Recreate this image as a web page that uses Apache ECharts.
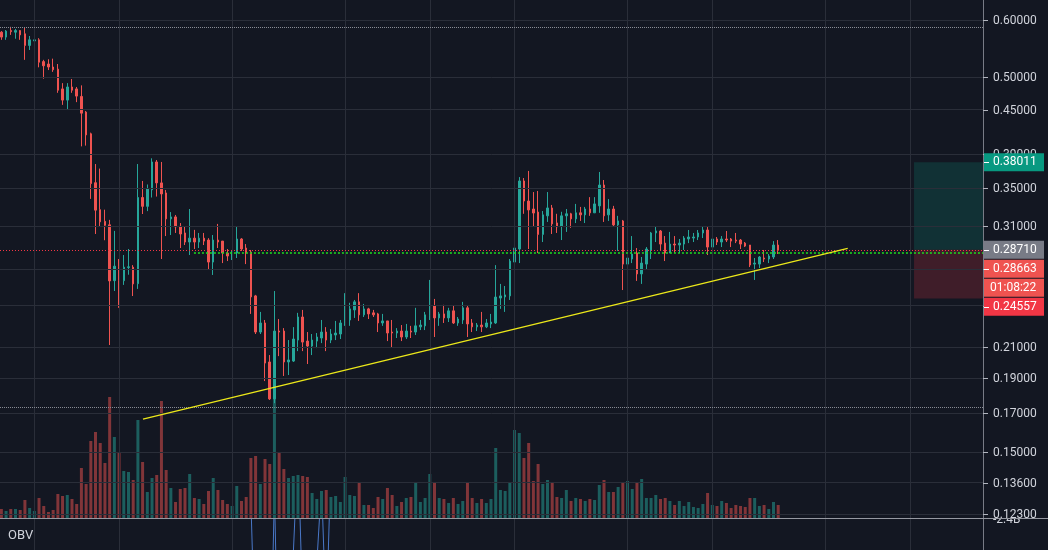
<!DOCTYPE html>
<html><head><meta charset="utf-8">
<script src="https://cdn.jsdelivr.net/npm/echarts@6/dist/echarts.min.js"></script>
<style>html,body{margin:0;padding:0;background:#131722;overflow:hidden}#c{width:1048px;height:550px}</style>
</head><body><div id="c"></div>
<script>
// ---- data ----
const openP = [0.577,0.568,0.580,0.577,0.580,0.574,0.553,0.561,0.563,0.525,
0.521,0.516,0.5125,0.481,0.464,0.484,0.481,0.4695,0.4465,0.4165,
0.356,0.3265,0.3145,0.311,0.260,0.2724,0.260,0.2713,0.2715,0.2575,
0.3395,0.330,0.348,0.3805,0.3558,0.3445,0.317,0.319,0.3095,0.303,
0.2943,0.298,0.2943,0.298,0.2962,0.276,0.2962,0.2952,0.2841,0.2814,
0.2841,0.2972,0.2887,0.285,0.2476,0.2205,0.227,0.2003,0.1779,0.2212,
0.2212,0.2003,0.2009,0.2149,0.2314,0.2142,0.2108,0.2142,0.2163,0.2205,
0.2149,0.2184,0.2191,0.2263,0.2292,0.2367,0.2429,0.233,0.2375,0.2345,
0.2337,0.227,0.2285,0.2205,0.2198,0.2212,0.217,0.2212,0.2205,0.2242,
0.2249,0.2322,0.2398,0.2307,0.2337,0.2307,0.236,0.227,0.2292,0.2383,
0.227,0.2242,0.2255,0.2242,0.2263,0.227,0.2459,0.2468,0.2476,0.276,
0.2878,0.358,0.3357,0.3272,0.324,0.3016,0.3201,0.3283,0.3129,0.3098,
0.3201,0.3222,0.317,0.3232,0.3211,0.3272,0.3232,0.3305,0.3534,0.3211,
0.3272,0.3109,0.3149,0.2742,0.2787,0.2841,0.2657,0.2742,0.2869,0.303,
0.3049,0.2933,0.2841,0.2924,0.2915,0.2924,0.2972,0.2981,0.2991,0.303,
0.3059,0.2896,0.2972,0.2943,0.2972,0.2972,0.2962,0.2962,0.2933,0.2915,
0.2742,0.2742,0.2796,0.2787,0.2805,0.2915];
const highP = [0.579,0.581,0.587,0.583,0.581,0.585,0.570,0.568,0.566,0.528,
0.529,0.530,0.521,0.490,0.490,0.4965,0.484,0.4865,0.448,0.418,
0.378,0.3725,0.3265,0.316,0.305,0.2787,0.2823,0.2878,0.2733,0.378,
0.358,0.354,0.385,0.3829,0.3805,0.3478,0.324,0.321,0.3128,0.3095,
0.3272,0.306,0.303,0.303,0.298,0.301,0.3119,0.2952,0.2878,0.2869,
0.3095,0.298,0.2924,0.2869,0.2484,0.2352,0.2292,0.2048,0.2515,0.2299,
0.2233,0.2149,0.224,0.2345,0.2367,0.2205,0.2191,0.2198,0.2292,0.224,
0.2226,0.2285,0.2292,0.2498,0.2422,0.2444,0.2498,0.2413,0.2383,0.2367,
0.2345,0.2337,0.2285,0.2292,0.2233,0.2255,0.2263,0.2249,0.2383,0.2292,
0.2352,0.2606,0.2452,0.2352,0.2406,0.2383,0.2398,0.2314,0.2429,0.2398,
0.2299,0.227,0.2352,0.2299,0.2337,0.2733,0.2573,0.2556,0.2787,0.319,
0.3625,0.3614,0.3697,0.3455,0.3467,0.3251,0.3455,0.3315,0.3222,0.3243,
0.3272,0.3232,0.3326,0.3294,0.3294,0.3399,0.3399,0.3685,0.3591,0.3378,
0.3305,0.3201,0.3159,0.2841,0.300,0.2887,0.2805,0.2896,0.304,0.3095,
0.3059,0.300,0.304,0.300,0.2972,0.300,0.3059,0.303,0.3059,0.3098,
0.3088,0.300,0.2991,0.300,0.3049,0.2981,0.303,0.2972,0.2943,0.2915,
0.2796,0.2814,0.2869,0.2832,0.2952,0.2962];
const lowP = [0.563,0.563,0.572,0.565,0.563,0.528,0.545,0.553,0.5155,0.497,
0.511,0.508,0.475,0.457,0.4495,0.475,0.461,0.400,0.401,0.338,
0.302,0.3095,0.296,0.2115,0.2515,0.2383,0.2565,0.265,0.2475,0.2532,
0.322,0.325,0.3395,0.3405,0.2787,0.300,0.301,0.303,0.2887,0.2915,
0.2823,0.2878,0.2887,0.2915,0.2691,0.2648,0.2887,0.2751,0.2769,0.2778,
0.2796,0.286,0.2742,0.2337,0.2191,0.2191,0.1884,0.1773,0.1755,0.2041,
0.1915,0.1921,0.2003,0.2074,0.2074,0.199,0.2048,0.2094,0.2128,0.2074,
0.2128,0.2149,0.2156,0.2249,0.2249,0.2307,0.2285,0.2314,0.2299,0.2314,
0.2205,0.2249,0.2142,0.2101,0.2163,0.2142,0.2156,0.2163,0.2184,0.2219,
0.2219,0.2292,0.217,0.2249,0.227,0.2277,0.2263,0.2249,0.2263,0.217,
0.2205,0.2212,0.2205,0.2233,0.2233,0.2263,0.2375,0.2352,0.2444,0.2742,
0.2751,0.3222,0.2878,0.3095,0.2841,0.2943,0.3139,0.302,0.303,0.2962,
0.304,0.308,0.3128,0.3149,0.3128,0.3201,0.3232,0.3232,0.3139,0.3149,
0.309,0.286,0.2523,0.2614,0.2751,0.2598,0.2573,0.2691,0.2787,0.2943,
0.286,0.2769,0.2841,0.2841,0.2841,0.2869,0.2933,0.2943,0.2962,0.2981,
0.2823,0.2887,0.2915,0.2896,0.2943,0.2896,0.2933,0.2878,0.2896,0.2716,
0.2606,0.2707,0.276,0.2751,0.2787,0.2832];
const closeP = [0.568,0.579,0.578,0.580,0.572,0.553,0.563,0.563,0.524,0.518,
0.516,0.5115,0.479,0.464,0.484,0.479,0.470,0.445,0.415,0.355,
0.326,0.314,0.3105,0.2598,0.2724,0.260,0.2715,0.2718,0.2573,0.3395,
0.330,0.349,0.3805,0.3558,0.3434,0.317,0.319,0.309,0.302,0.2943,
0.298,0.2943,0.298,0.2952,0.276,0.2962,0.2943,0.2841,0.2814,0.285,
0.2972,0.2878,0.2841,0.2468,0.2205,0.227,0.1996,0.1779,0.2212,0.2205,
0.2003,0.2016,0.2156,0.2314,0.2135,0.2108,0.2149,0.217,0.2205,0.2149,
0.2191,0.2198,0.227,0.2299,0.2375,0.2429,0.233,0.2375,0.2337,0.233,
0.227,0.2285,0.2198,0.2198,0.2212,0.217,0.2212,0.2205,0.2249,0.2255,
0.233,0.2398,0.2307,0.2337,0.2307,0.236,0.227,0.2299,0.2383,0.2263,
0.2242,0.2255,0.2242,0.227,0.2277,0.2467,0.2476,0.2484,0.2769,0.2887,
0.358,0.3357,0.3262,0.323,0.3016,0.3211,0.3283,0.3119,0.309,0.3201,
0.3222,0.317,0.3232,0.3211,0.3272,0.3232,0.3326,0.3534,0.3201,0.3272,
0.3109,0.3149,0.2742,0.2796,0.2832,0.2657,0.2751,0.2878,0.303,0.305,
0.2924,0.2841,0.2924,0.2915,0.2933,0.2981,0.2991,0.2991,0.303,0.3059,
0.2896,0.2972,0.2943,0.2972,0.2962,0.2952,0.2952,0.2924,0.2905,0.2734,
0.2751,0.2805,0.2787,0.2814,0.2915,0.28663];
const volume = [9,7,9,9,8,18,10,7,20,12,
6,8,24,22,23,19,14,50,34,77,
86,75,55,121,81,66,47,46,38,98,
56,26,40,43,117,48,30,16,29,30,
44,20,19,14,27,40,28,18,14,12,
32,17,21,60,62,34,59,54,141,65,
49,40,42,43,42,41,25,19,27,28,
21,22,16,41,23,22,36,13,13,10,
21,19,30,23,12,16,20,21,36,16,
20,44,35,20,19,15,20,14,17,35,
20,15,19,15,19,70,28,27,35,88,
85,60,75,37,54,34,38,35,21,20,
28,17,20,19,17,19,18,33,38,26,
26,31,36,37,29,36,39,20,20,23,
19,20,17,13,17,12,16,11,10,14,
25,13,12,17,15,10,13,12,11,20,
20,12,13,9,16,13];
const obv = [-0.95,-0.93,-0.95,-0.93,-0.95,-0.99,-0.97,-0.96,-1.00,-1.03,
-1.04,-1.06,-1.11,-1.16,-1.11,-1.15,-1.18,-1.29,-1.36,-1.53,
-1.72,-1.88,-2.00,-2.10,-1.93,-2.07,-1.97,-1.87,-1.95,-1.74,
-1.86,-1.80,-1.72,-1.81,-2.06,-2.16,-2.10,-2.13,-2.19,-2.25,
-2.16,-2.20,-2.16,-2.19,-2.25,-2.16,-2.22,-2.26,-2.29,-2.26,
-2.19,-2.23,-2.18,-2.20,-4.0,-3.9,-4.1,-4.5,-2.10,-4.5,
-4.6,-4.5,-2.80,-1.60,-3.40,-3.5,-3.3,-2.90,-2.00,-3.55,
-1.77,-1.75,-1.72,-1.66,-1.70,-1.65,-1.70,-1.66,-1.69,-1.70,
-1.73,-1.71,-1.75,-1.77,-1.75,-1.77,-1.75,-1.77,-1.72,-1.70,
-1.67,-1.62,-1.66,-1.63,-1.65,-1.62,-1.65,-1.63,-1.61,-1.65,
-1.67,-1.65,-1.67,-1.65,-1.63,-1.53,-1.49,-1.45,-1.40,-1.27,
-1.14,-1.23,-1.34,-1.40,-1.48,-1.43,-1.37,-1.42,-1.45,-1.42,
-1.38,-1.40,-1.37,-1.40,-1.37,-1.40,-1.37,-1.32,-1.37,-1.33,
-1.37,-1.32,-1.38,-1.32,-1.27,-1.23,-1.27,-1.21,-1.27,-1.24,
-1.20,-1.18,-1.20,-1.22,-1.20,-1.22,-1.20,-1.18,-1.16,-1.15,
-1.13,-1.17,-1.15,-1.17,-1.14,-1.16,-1.17,-1.19,-1.21,-1.22,
-1.25,-1.22,-1.20,-1.22,-1.20,-1.18];
const priceTicks = [0.6,0.5,0.45,0.39,0.35,0.31,0.27,0.24,0.21,0.19,0.17,0.15,0.136,0.123];
const timeGridIdx = [7,25,49,73,91,109,133,151,175,193];
const trendLine = [[30.08,0.1668],[179.76,0.2884]];
const grayLevels = [0.5867,0.1733];
const greenLevel = {start:40.9, price:0.2848};
const targetPrice = 0.38011, entryPrice = 0.28710, lastPrice = 0.28663, stopPrice = 0.24557;
const countdown = '01:08:22';
const obvLabel = '-2.4B';
const boxStart = 193.85;

// ---- layout / styles ----
const X_MIN = -0.29, X_MAX = 208.5;
const BG = '#131722', GRID = '#2a2e39', TXT = '#d1d4dc';
const UP = '#26a69a', DOWN = '#ef5350';
const FONT = '12px Roboto, "Noto Sans", sans-serif';
const grayColors = ['#8a8d96', '#878a93'];

const candleData = openP.map((o,i)=>[i, o, closeP[i], lowP[i], highP[i]]);
const volData = volume.map((v,i)=>({value:[i,v], itemStyle:{color: closeP[i]>=openP[i] ? 'rgba(38,166,154,0.5)' : 'rgba(239,83,80,0.5)'}}));
const obvData = obv.map((v,i)=>[i,v]);
const hLine = (v, style, x0) => [{coord:[x0 == null ? X_MIN : x0, v], lineStyle:style}, {coord:[X_MAX, v]}];
const mlBase = {silent:true, precision:10, symbol:['none','none'], label:{show:false}, emphasis:{disabled:true}};
const hiddenAxisLine = {show:false, onZero:false};

const chart = echarts.init(document.getElementById('c'), null, {renderer:'canvas'});
const xAx = g => ({type:'value', gridIndex:g, min:X_MIN, max:X_MAX, show:false,
  axisLine:hiddenAxisLine, axisTick:{show:false}, axisLabel:{show:false}, splitLine:{show:false}});
const levelSeries = grayLevels.map((v,k)=>({
  type:'line', name:'level'+k, xAxisIndex:0, yAxisIndex:0, data:[], z:4+k, silent:true,
  markLine:Object.assign({}, mlBase, {lineStyle:{color:grayColors[k], width:1, type:'dotted'}, data:[hLine(v, {color:grayColors[k], width:1, type:'dotted'})]})
}));
chart.setOption({
  backgroundColor: BG,
  animation: false,
  grid: [
    {left:0, top:0, width:983, height:550, containLabel:false},
    {left:0, top:368, width:983, height:150, containLabel:false},
    {left:0, top:519, width:983, height:31, containLabel:false}
  ],
  xAxis: [xAx(0), xAx(1), xAx(2)],
  yAxis: [
    {type:'log', gridIndex:0, min:0.109578, max:0.63976, position:'right',
     axisLine:{show:true, onZero:false, lineStyle:{color:'#787b86', width:1}}, axisTick:{show:false},
     axisLabel:{show:false}, splitLine:{show:false}},
    {type:'value', gridIndex:1, min:0, max:150, show:false, axisLine:hiddenAxisLine, splitLine:{show:false}, axisLabel:{show:false}, axisTick:{show:false}},
    {type:'value', gridIndex:2, min:-2.75, max:-2.4, show:false, axisLine:hiddenAxisLine, splitLine:{show:false}, axisLabel:{show:false}, axisTick:{show:false}}
  ],
  series: [
    {type:'line', name:'gridlines', xAxisIndex:0, yAxisIndex:0, data:[], z:1, silent:true,
     markLine:Object.assign({}, mlBase, {lineStyle:{color:GRID, width:1, type:'solid'},
       data:[...priceTicks.map(v=>hLine(v, {color:GRID, width:1, type:'solid'})), ...timeGridIdx.map(i=>({xAxis:i}))]})},
    {type:'line', name:'position', xAxisIndex:0, yAxisIndex:0, data:[], z:2, silent:true,
     markArea:{silent:true, emphasis:{disabled:true}, label:{show:false},
       data:[
         [{xAxis:boxStart, yAxis:targetPrice, itemStyle:{color:'rgba(8,153,129,0.2)'}}, {xAxis:X_MAX, yAxis:entryPrice}],
         [{xAxis:boxStart, yAxis:entryPrice, itemStyle:{color:'rgba(242,54,69,0.2)'}}, {xAxis:X_MAX, yAxis:stopPrice}]
       ]}},
    {type:'bar', name:'Volume', xAxisIndex:1, yAxisIndex:1, data:volData, barWidth:3, z:2, silent:true},
    {type:'candlestick', name:'Price', xAxisIndex:0, yAxisIndex:0, data:candleData, barWidth:2, z:3, silent:true, clip:true,
     itemStyle:{color:UP, color0:DOWN, borderColor:UP, borderColor0:DOWN, borderWidth:1}},
    {type:'line', name:'OBV', xAxisIndex:2, yAxisIndex:2, data:obvData, showSymbol:false, symbol:'none', clip:true,
     lineStyle:{color:'#4a78c8', width:1}, z:3, silent:true},
    ...levelSeries,
    {type:'line', name:'priceLine', xAxisIndex:0, yAxisIndex:0, data:[], z:7, silent:true,
     markLine:Object.assign({}, mlBase, {data:[hLine(lastPrice, {color:'#f23645', width:1, type:[1,2]})]})},
    {type:'line', name:'entryLine', xAxisIndex:0, yAxisIndex:0, data:[], z:8, silent:true,
     markLine:Object.assign({}, mlBase, {data:[hLine(greenLevel.price, {color:'#1fe01f', width:1.5, type:[2,2]}, greenLevel.start)]})},
    {type:'line', name:'trend', xAxisIndex:0, yAxisIndex:0, data:[], z:9, silent:true,
     markLine:Object.assign({}, mlBase, {data:[[{coord:trendLine[0], lineStyle:{color:'#ece81a', width:1.3, type:'solid'}}, {coord:trendLine[1]}]]})}
  ]
});

// ---- price-axis texts placed through the axis scale ----
const yPx = v => chart.convertToPixel({yAxisIndex:0}, v);
const els = [];
els.push({type:'text', x:993, y:520, z:100, silent:true, style:{text:obvLabel, fill:TXT, font:FONT, align:'left', verticalAlign:'middle'}});
els.push({type:'rect', z:101, silent:true, shape:{x:984, y:500, width:64, height:18.5}, style:{fill:BG}});
priceTicks.forEach(v=>{
  const y = Math.round(yPx(v)) + 0.5;
  els.push({type:'line', z:102, silent:true, shape:{x1:983, y1:y, x2:988, y2:y}, style:{stroke:'#b2b5be', lineWidth:1}});
  els.push({type:'text', x:993, y:y, z:102, silent:true, style:{text:v.toFixed(5), fill:TXT, font:FONT, align:'left', verticalAlign:'middle'}});
});
const tags = [
  {v:targetPrice, text:targetPrice.toFixed(5), color:'#089981', tick:true},
  {v:entryPrice, text:entryPrice.toFixed(5), color:'#787b86', tick:true},
  {v:lastPrice, text:lastPrice.toFixed(5), color:'#ef5350', tick:true},
  {v:lastPrice, text:countdown, color:'#ef5350', tick:false},
  {v:stopPrice, text:stopPrice.toFixed(5), color:'#f23645', tick:true}
];
const TAG_H = 18;
let prevBottom = -Infinity;
tags.forEach(t=>{
  let c = yPx(t.v);
  if (c - TAG_H/2 < prevBottom + 1) c = prevBottom + 1 + TAG_H/2;
  prevBottom = c + TAG_H/2;
  els.push({type:'rect', z:103, silent:true, shape:{x:984, y:c-TAG_H/2, width:60, height:TAG_H}, style:{fill:t.color}});
  if (t.tick) els.push({type:'line', z:104, silent:true, shape:{x1:984, y1:Math.round(c)+0.5, x2:989, y2:Math.round(c)+0.5}, style:{stroke:'#ffffff', lineWidth:1}});
  els.push({type:'text', x: t.tick ? 993 : 990, y:c, z:104, silent:true, style:{text:t.text, fill:'#ffffff', font:FONT, align:'left', verticalAlign:'middle'}});
});
els.push({type:'line', z:105, silent:true, shape:{x1:0, y1:518.5, x2:1048, y2:518.5}, style:{stroke:'#9598a1', lineWidth:1}});
els.push({type:'text', x:8, y:536, z:105, silent:true, style:{text:'OBV', fill:TXT, font:'13px Roboto, "Noto Sans", sans-serif', align:'left', verticalAlign:'middle'}});
chart.setOption({graphic:{elements:els}});
</script>
</body></html>
